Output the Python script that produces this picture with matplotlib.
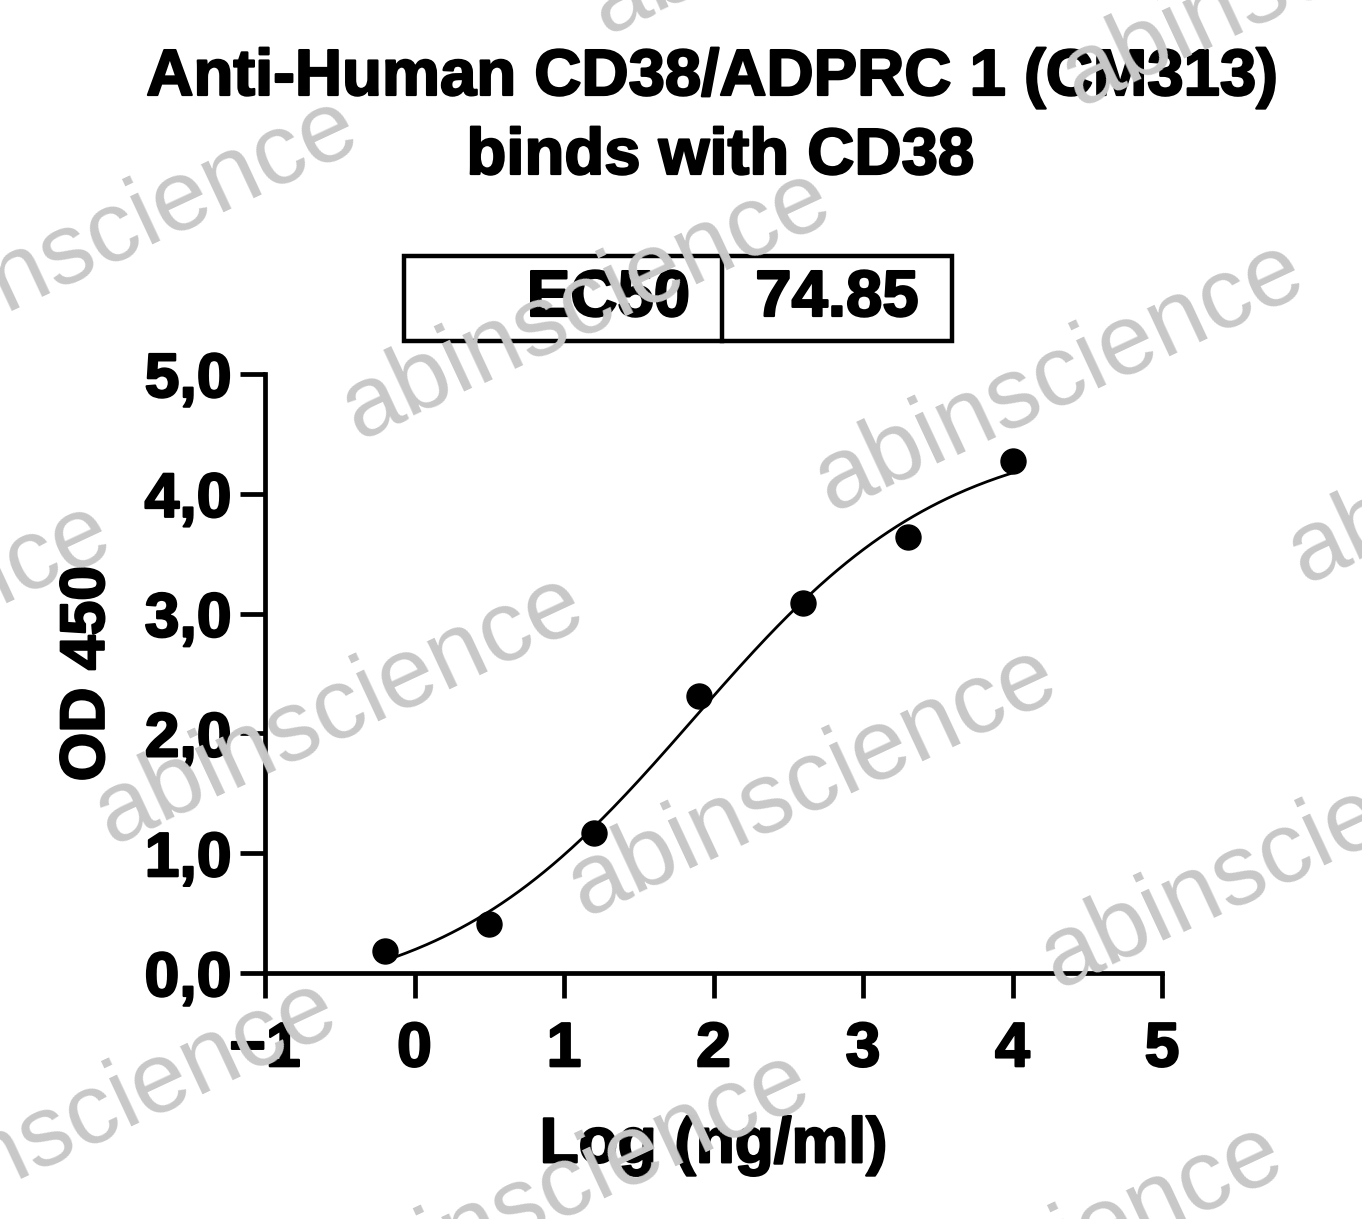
"""Dose-response curve: Anti-Human CD38/ADPRC 1 (CM313) binding ELISA."""
import numpy as np
import matplotlib
matplotlib.use('Agg')
import matplotlib.pyplot as plt
import matplotlib.patheffects as pe
from matplotlib.patches import Rectangle
from matplotlib.lines import Line2D
from matplotlib.ticker import FuncFormatter

plt.rcParams['font.family'] = ['Liberation Sans', 'DejaVu Sans']

# data
log_conc = [-0.2, 0.5, 1.2, 1.9, 2.6, 3.3, 4.0]
od450 = [0.18, 0.41, 1.17, 2.31, 3.09, 3.64, 4.27]
ec50_label = 'EC50'
ec50_value = '74.85'
x_ticks = [-1, 0, 1, 2, 3, 4, 5]
y_ticks = [0, 1, 2, 3, 4, 5]
title_lines = ['Anti-Human CD38/ADPRC 1 (CM313)', 'binds with CD38']
watermark = 'abinscience'

W, H = 1362, 1219
heavy = [pe.withStroke(linewidth=1.6, foreground='black')]


def fx(px):
    return px / W


def fy(py):
    return 1 - py / H


# 4PL fit: grid over logEC50 / hill, bottom & top by linear least squares
xs = np.array(log_conc)
ys = np.array(od450)
cs = np.linspace(0.5, 3.5, 301)[:, None, None]
hs = np.linspace(0.2, 1.5, 261)[None, :, None]
s = 1.0 / (1.0 + 10 ** ((cs - xs) * hs))
sbar = s.mean(axis=2, keepdims=True)
ybar = ys.mean()
slope = ((s - sbar) * (ys - ybar)).sum(axis=2, keepdims=True) / ((s - sbar) ** 2).sum(axis=2, keepdims=True)
icpt = ybar - slope * sbar
sse = ((icpt + slope * s - ys) ** 2).sum(axis=2)
i, j = np.unravel_index(np.argmin(sse), sse.shape)
c_fit, h_fit = cs[i, 0, 0], hs[0, j, 0]
bot, span = icpt[i, j, 0], slope[i, j, 0]

xc = np.linspace(xs.min(), xs.max(), 300)
yc = bot + span / (1.0 + 10 ** ((c_fit - xc) * h_fit))

fig = plt.figure(figsize=(W / 100, H / 100), dpi=100)
ax = fig.add_axes([fx(265), fy(973), fx(1162) - fx(265), fy(374) - fy(973)])

ax.plot(xc, yc, color='black', lw=2.0, zorder=3, clip_on=False)
ax.plot(xs, ys, 'o', color='black', ms=18, zorder=4, clip_on=False)

ax.set_xlim(-1, 5)
ax.set_ylim(0, 5)
ax.set_xticks(x_ticks)
ax.set_yticks(y_ticks)
ax.yaxis.set_major_formatter(FuncFormatter(lambda v, p: '{:.1f}'.format(v).replace('.', ',')))
for side in ['top', 'right']:
    ax.spines[side].set_visible(False)
for side in ['left', 'bottom']:
    ax.spines[side].set_linewidth(3.4)
ax.tick_params(axis='both', direction='out', length=18, width=3.4, labelsize=45)
ax.tick_params(axis='x', pad=16)
ax.tick_params(axis='y', pad=6)
for lab in ax.get_xticklabels() + ax.get_yticklabels():
    lab.set_fontweight('bold')
    lab.set_path_effects(heavy)

ax.set_xlabel('Log (ng/ml)', fontsize=46, fontweight='bold', labelpad=26, path_effects=heavy)
ax.set_ylabel('OD 450', fontsize=45, fontweight='bold', labelpad=20, path_effects=heavy)

# title
fig.text(fx(712), fy(78), title_lines[0], ha='center', va='center', fontsize=47,
         fontweight='bold', path_effects=heavy)
fig.text(fx(720), fy(157), title_lines[1], ha='center', va='center', fontsize=47,
         fontweight='bold', path_effects=heavy)

# EC50 box
box = Rectangle((fx(404), fy(341)), fx(952) - fx(404), fy(256) - fy(341),
                transform=fig.transFigure, fill=False, lw=3.2, edgecolor='black')
fig.add_artist(box)
fig.add_artist(Line2D([fx(722), fx(722)], [fy(341), fy(256)], transform=fig.transFigure,
                      lw=3.2, color='black'))
fig.text(fx(690), fy(299), ec50_label, ha='right', va='center', fontsize=47,
         fontweight='bold', path_effects=heavy)
fig.text(fx(837), fy(299), ec50_value, ha='center', va='center', fontsize=47,
         fontweight='bold', path_effects=heavy)

# watermark lattice
base = np.array([587.0, 305.0])
va_ = np.array([473.0, 72.0])
vb_ = np.array([-247.0, 405.0])
for a in range(-3, 4):
    for b in range(-2, 4):
        cx, cy = base + a * va_ + b * vb_
        if -400 < cx < W + 400 and -200 < cy < H + 200:
            fig.text(fx(cx), fy(cy), watermark, ha='center', va='center', rotation=25,
                     rotation_mode='anchor', fontsize=72, color='#c8c8c8', zorder=10)

fig.savefig('out.png', dpi=100)
